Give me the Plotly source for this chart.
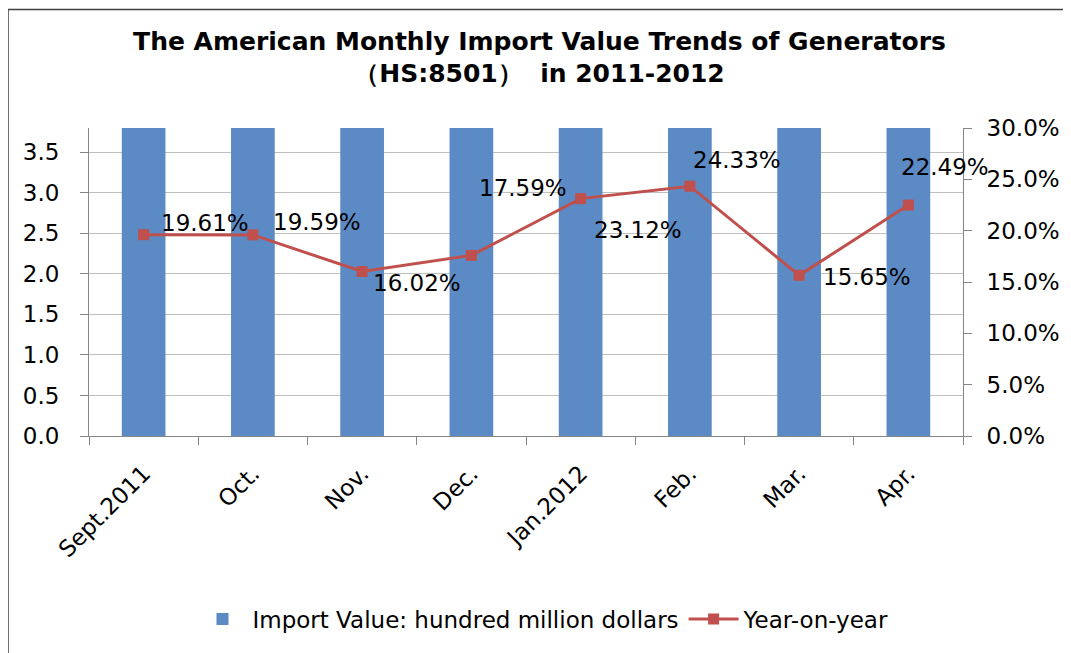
import plotly.graph_objects as go

months = ["Sept.2011", "Oct.", "Nov.", "Dec.", "Jan.2012", "Feb.", "Mar.", "Apr."]
# bars run past the top of the value axis in the original, so these are estimates
import_value = [4.62, 4.85, 4.71, 4.93, 4.58, 4.66, 5.21, 4.97]
yoy_pct = [19.61, 19.59, 16.02, 17.59, 23.12, 24.33, 15.65, 22.49]

# pixel offsets of each percentage label from its marker
label_shift = [(61, 12), (64, 13), (55, -11), (52, 67), (57, -31), (47, 26), (68, -2), (37, 38)]

font = "DejaVu Sans, Verdana, sans-serif"
blue = "#5B8AC4"
red = "#C0504D"
grid = "#BFBFBF"
axis_grey = "#868686"

fig = go.Figure()

fig.add_trace(go.Bar(
    x=months,
    y=import_value,
    name="Import Value: hundred million dollars",
    marker=dict(color=blue, line=dict(width=0)),
    yaxis="y",
))

fig.add_trace(go.Scatter(
    x=months,
    y=[v / 100 for v in yoy_pct],
    name="Year-on-year",
    mode="lines+markers",
    line=dict(color=red, width=3),
    marker=dict(symbol="square", size=11, color=red),
    yaxis="y2",
))

for m, v, (dx, dy) in zip(months, yoy_pct, label_shift):
    fig.add_annotation(
        x=m, y=v / 100, xref="x", yref="y2",
        text=f"{v:.2f}%", showarrow=False,
        xshift=dx, yshift=dy,
        font=dict(family=font, size=23, color="black"),
    )

# outer frame of the chart (page has an 8px body margin)
fig.add_shape(
    type="rect", xref="paper", yref="paper",
    x0=-81 / 874, x1=(1058 - 81) / 874, y0=-0.75, y1=430 / 310 - 0.002,
    line=dict(color="#404040", width=1.5),
)

fig.update_layout(
    width=1063,
    height=645,
    margin=dict(l=81, r=108, t=120, b=215),
    paper_bgcolor="white",
    plot_bgcolor="white",
    bargap=0.6,
    font=dict(family=font, size=23, color="black"),
    title=dict(
        text="<b>The American Monthly Import Value Trends of Generators<br>（HS:8501）  in 2011-2012</b>",
        x=0.5, xanchor="center", y=0.935, yanchor="middle",
        font=dict(family=font, size=25, color="black"),
    ),
    xaxis=dict(
        type="category",
        range=[-0.5, 7.5],
        tickangle=-45,
        showline=True, linecolor=axis_grey, linewidth=1,
        ticks="outside", tickson="boundaries", ticklen=8, tickcolor=axis_grey,
        ticklabelstandoff=14,
        showgrid=False,
        tickfont=dict(family=font, size=23),
    ),
    yaxis=dict(
        range=[0, 3.8], dtick=0.5, tickformat=".1f",
        showline=True, linecolor=axis_grey, linewidth=1,
        ticks="outside", ticklen=8, tickcolor=axis_grey,
        ticklabelstandoff=16,
        showgrid=True, gridcolor=grid, gridwidth=1,
        zeroline=False,
        tickfont=dict(family=font, size=23),
    ),
    yaxis2=dict(
        overlaying="y", side="right",
        range=[0, 0.3], dtick=0.05, tickformat=".1%",
        showline=True, linecolor=axis_grey, linewidth=1,
        ticks="outside", ticklen=8, tickcolor=axis_grey,
        ticklabelstandoff=10,
        showgrid=False, zeroline=False,
        tickfont=dict(family=font, size=23),
    ),
    legend=dict(
        orientation="h",
        x=0.52, xanchor="center",
        y=-0.594, yanchor="middle",
        font=dict(family=font, size=23),
        itemwidth=50,
        traceorder="normal",
    ),
)

fig.write_html("out.html")
